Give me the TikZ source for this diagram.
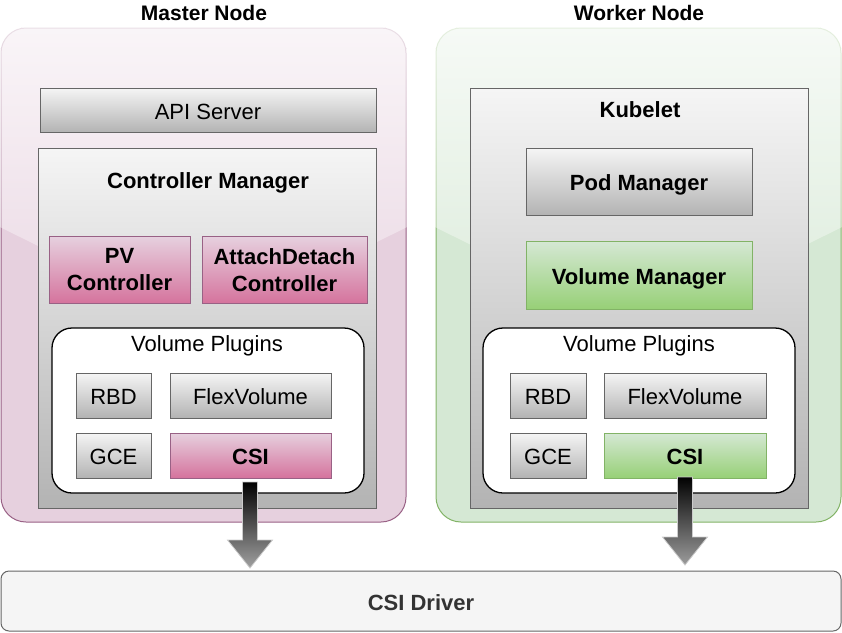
\documentclass[tikz,border=0pt]{standalone}
\usepackage{fontspec}
\setmainfont{Liberation Sans}
\usetikzlibrary{calc,fadings}
\tikzfading[name=glassfade, top color=transparent!20, bottom color=transparent!82]
\definecolor{pinkfill}{HTML}{E6D0DE}
\definecolor{pinkgrad}{HTML}{D5739D}
\definecolor{pinkline}{HTML}{996185}
\definecolor{greenfill}{HTML}{D5E8D4}
\definecolor{greengrad}{HTML}{97D077}
\definecolor{greenline}{HTML}{82B366}
\definecolor{grayfill}{HTML}{F5F5F5}
\definecolor{graygrad}{HTML}{B3B3B3}
\definecolor{grayline}{HTML}{666666}
\definecolor{drivertext}{HTML}{333333}
\definecolor{arrowline}{HTML}{CCCCCC}
\definecolor{arrowbottom}{HTML}{A6A6A6}
\tikzset{
  base/.style={inner sep=0pt, outer sep=0pt, line width=1pt, align=center,
    text height=18.5pt, text depth=0pt, font=\fontsize{22}{27}\selectfont},
  boldbase/.style={base, font=\bfseries\fontsize{22}{27}\selectfont},
  graybox/.style={base, draw=grayline, top color=grayfill, bottom color=graygrad},
  graybold/.style={graybox, font=\bfseries\fontsize{22}{27}\selectfont},
  pinkbox/.style={boldbase, draw=pinkline, top color=pinkfill, bottom color=pinkgrad},
  greenbox/.style={boldbase, draw=greenline, top color=greenfill, bottom color=greengrad},
  twoline/.style={text height=, text depth=},
  pluginsbox/.style={base, draw=black, line width=1.3pt, fill=white, rounded corners=20pt},
  outerbox/.style={base, rounded corners=25pt},
  titletext/.style={inner sep=0pt, text height=15pt, text depth=0pt, font=\bfseries\fontsize{21}{25}\selectfont},
  plaintext/.style={inner sep=0pt, text height=15.75pt, text depth=0pt, font=\fontsize{22}{27}\selectfont},
  boldtext/.style={inner sep=0pt, text height=15.75pt, text depth=0pt, font=\bfseries\fontsize{22}{27}\selectfont},
  arrowshape/.style={insert path={-- ++(0,#1) -- ++(-15,0) -- ++(22.5,28) -- ++(22.5,-28) -- ++(-15,0) -- ++(0,-#1) -- cycle}},
  arrowoutline/.style={draw=arrowline, line width=0.8pt, line join=miter},
  driverbox/.style={boldbase, draw=grayline, fill=grayfill, rounded corners=8pt, text=drivertext}
}
\begin{document}
\begin{tikzpicture}[x=1pt,y=-1pt]
\useasboundingbox (0,0) rectangle (842,632);

% titles
\node[titletext] (mtitle) at (204,12.8) {Master Node};
\node[titletext] (wtitle) at (639,12.8) {Worker Node};

% outer containers
\node[outerbox, fill=pinkfill, draw=pinkline, minimum width=405pt, minimum height=494pt] (master) at (203.5,275) {};
\node[outerbox, fill=greenfill, draw=greenline, minimum width=405pt, minimum height=494pt] (worker) at (638.5,275) {};

% glass overlays
\foreach \obox in {master,worker}{
  \begin{scope}
    \clip[rounded corners=25pt] ($(\obox.north west)+(-1,-1)$) rectangle ($(\obox.south east)+(1,1)$);
    \fill[white, path fading=glassfade]
      ($(\obox.north west)+(-1,-1)$) -- ($(\obox.north east)+(1,-1)$) --
      ($(\obox.north east)+(1,199)$) .. controls ($(\obox.north)+(0,300)$) ..
      ($(\obox.north west)+(-1,199)$) -- cycle;
  \end{scope}
}

% ---------- Master node ----------
\node[graybox, minimum width=336pt, minimum height=44pt] (api) at (208,110) {API Server};
\node[graybox, minimum width=338pt, minimum height=360pt] (cm) at (207,328) {};
\node[boldtext] (cmtitle) at (208,180.3) {Controller Manager};
\node[pinkbox, twoline, minimum width=141pt, minimum height=67pt] (pvc) at (119.5,270) {PV\\Controller};
\node[pinkbox, twoline, minimum width=165pt, minimum height=67pt] (adc) at (284.5,270) {AttachDetach\\Controller};
\node[pluginsbox, minimum width=312pt, minimum height=165pt] (mvp) at (208,410.5) {};
\node[plaintext] (mvptitle) at (207,343.7) {Volume Plugins};
\node[graybox, minimum width=75pt, minimum height=45pt] (mrbd) at (113.5,395.5) {RBD};
\node[graybox, minimum width=161pt, minimum height=45pt] (mflex) at (250.5,395.5) {FlexVolume};
\node[graybox, minimum width=75pt, minimum height=45pt] (mgce) at (113.5,455.5) {GCE};
\node[pinkbox, minimum width=161pt, minimum height=45pt] (mcsi) at (250.5,455.5) {CSI};

% ---------- Worker node ----------
\node[graybox, minimum width=338pt, minimum height=420pt] (kubelet) at (639,298) {};
\node[boldtext] (kubtitle) at (640,109.5) {Kubelet};
\node[graybold, minimum width=226pt, minimum height=67pt] (pod) at (639,181.5) {Pod Manager};
\node[greenbox, minimum width=226pt, minimum height=68pt] (volmgr) at (639,275) {Volume Manager};
\node[pluginsbox, minimum width=312pt, minimum height=165pt] (wvp) at (639,410.5) {};
\node[plaintext] (wvptitle) at (639,343.7) {Volume Plugins};
\node[graybox, minimum width=76pt, minimum height=45pt] (wrbd) at (548,395.5) {RBD};
\node[graybox, minimum width=162pt, minimum height=45pt] (wflex) at (685,395.5) {FlexVolume};
\node[graybox, minimum width=76pt, minimum height=45pt] (wgce) at (548,455.5) {GCE};
\node[greenbox, minimum width=162pt, minimum height=45pt] (wcsi) at (685,455.5) {CSI};

% ---------- CSI driver ----------
\node[driverbox, minimum width=840pt, minimum height=60pt] (driver) at (421,601) {CSI Driver};

% ---------- fat arrows (CSI plugin -> CSI driver) ----------
\begin{scope}
  \clip ($(mcsi.south)+(-8,4)$) [arrowshape=58];
  \shade[top color=black, bottom color=arrowbottom] ($(mcsi.south)+(-24,3)$) rectangle ($(driver.north)!(mcsi.south)!(driver.north east)+(24,0)$);
\end{scope}
\path[arrowoutline] ($(mcsi.south)+(-8,4)$) [arrowshape=58];
\begin{scope}
  \clip ($(wcsi.south)+(-7.5,-1)$) [arrowshape=60];
  \shade[top color=black, bottom color=arrowbottom] ($(wcsi.south)+(-24,-2)$) rectangle ($(driver.north)!(wcsi.south)!(driver.north east)+(24,0)$);
\end{scope}
\path[arrowoutline] ($(wcsi.south)+(-7.5,-1)$) [arrowshape=60];
\end{tikzpicture}
\end{document}
